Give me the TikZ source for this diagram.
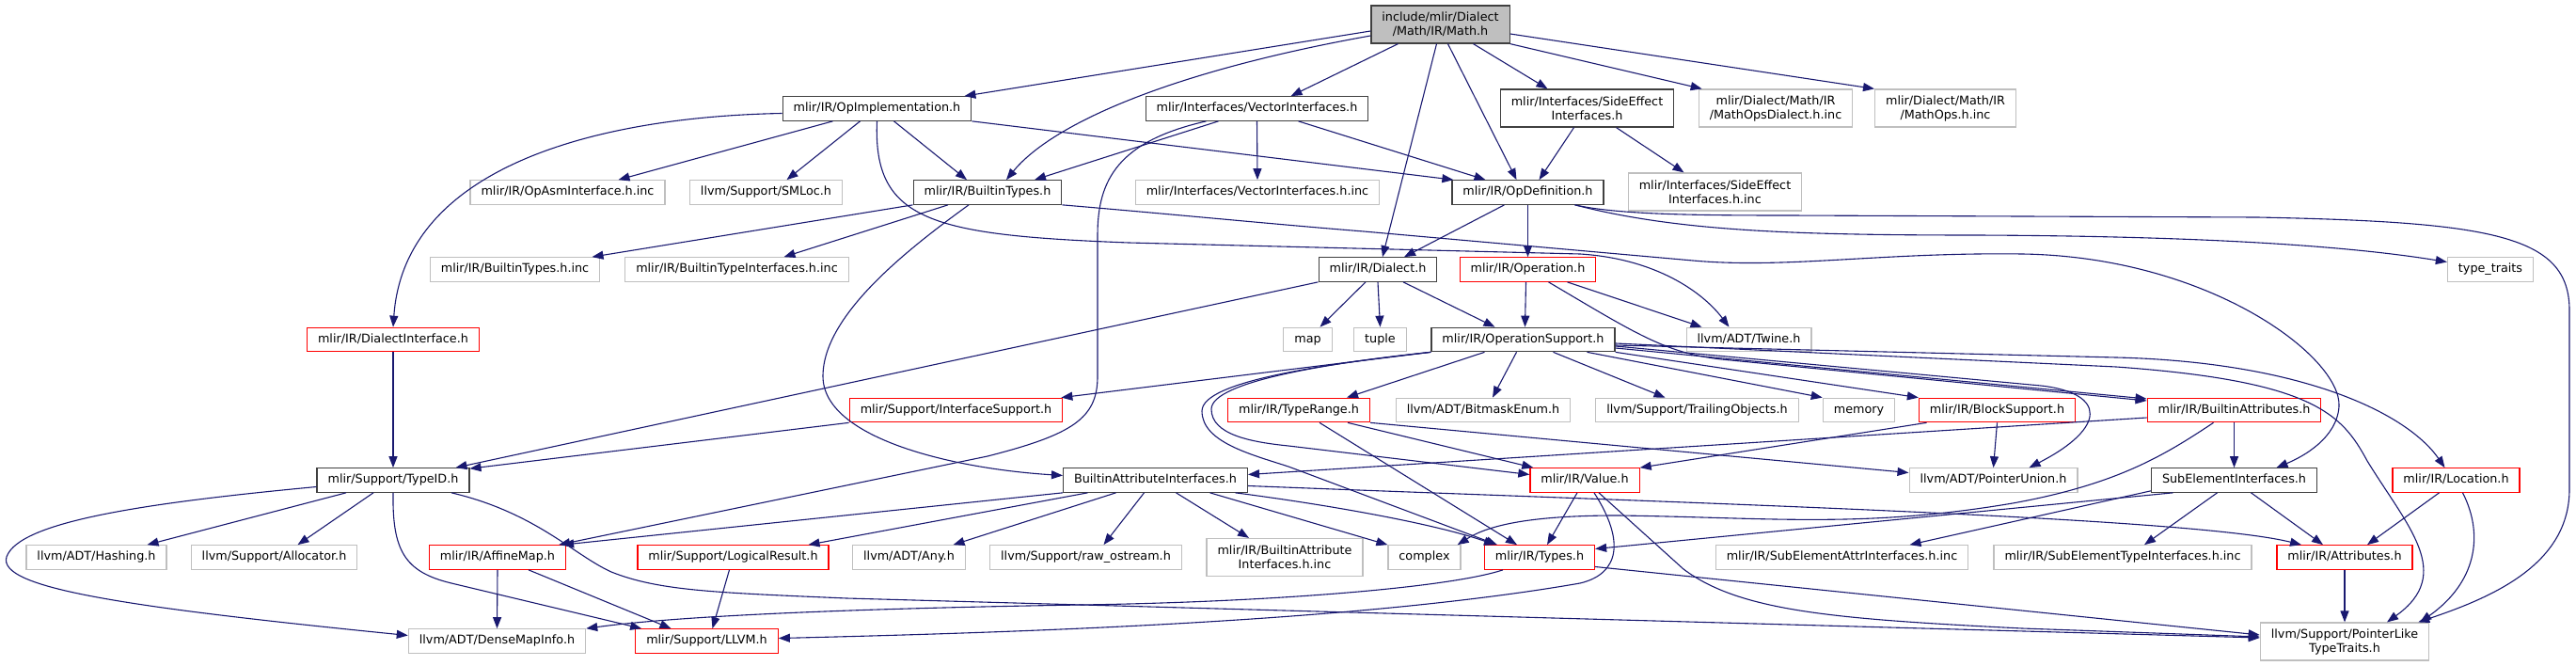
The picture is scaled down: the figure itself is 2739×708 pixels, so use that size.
\documentclass[tikz,border=0pt]{standalone}
\usepackage{fontspec}
\setmainfont{DejaVu Sans}
\usepackage{xcolor}
\usetikzlibrary{arrows.meta}

\definecolor{edgeblue}{HTML}{191970}
\definecolor{docline}{HTML}{404040}
\definecolor{truncline}{HTML}{FF0000}
\definecolor{extline}{HTML}{BFBFBF}
\definecolor{rootfill}{HTML}{BFBFBF}

\begin{document}
\begin{tikzpicture}[
        x=1pt, y=-1pt,
        file/.style={
            rectangle, draw, line width=1.2pt, font=\fontsize{12.76}{15}\selectfont,
            inner xsep=11.5pt, inner ysep=0pt, minimum height=25.5pt,
            text height=9.5pt, text depth=2.8pt
        },
        doc/.style  ={file, draw=docline},
        trunc/.style={file, draw=truncline},
        ext/.style  ={file, draw=extline},
        root/.style ={file, draw=docline, fill=rootfill},
        two/.style  ={align=center, minimum height=40pt, text height=, text depth=},
        dep/.style  ={->, draw=edgeblue, line width=1.1pt, >={Triangle[length=12pt,width=9pt]}}
    ]
        \useasboundingbox (0,0) rectangle (2739,708);

        % files
        \node[root, two] (math)     at (1531.5,26)  {include/mlir/Dialect\\/Math/IR/Math.h};

        \node[doc]       (opimpl)   at (932.5,115.5)  {mlir/IR/OpImplementation.h};
        \node[doc]       (vecif)    at (1336.5,115.5) {mlir/Interfaces/VectorInterfaces.h};
        \node[doc, two]  (sideeff)  at (1687.5,115)   {mlir/Interfaces/SideEffect\\Interfaces.h};
        \node[ext, two]  (mathdial) at (1888,115)     {mlir/Dialect/Math/IR\\/MathOpsDialect.h.inc};
        \node[ext, two]  (mathops)  at (2068.5,115)   {mlir/Dialect/Math/IR\\/MathOps.h.inc};

        \node[ext]       (opasm)    at (603.5,204.5)  {mlir/IR/OpAsmInterface.h.inc};
        \node[ext]       (smloc)    at (814.5,204.5)  {llvm/Support/SMLoc.h};
        \node[doc]       (btypes)   at (1050,204.5)   {mlir/IR/BuiltinTypes.h};
        \node[ext]       (vecinc)   at (1337,204.5)   {mlir/Interfaces/VectorInterfaces.h.inc};
        \node[doc]       (opdef)    at (1624.5,204.5) {mlir/IR/OpDefinition.h};
        \node[ext, two]  (sideinc)  at (1823.5,204)   {mlir/Interfaces/SideEffect\\Interfaces.h.inc};

        \node[ext]       (btinc)    at (547.5,286.5)  {mlir/IR/BuiltinTypes.h.inc};
        \node[ext]       (btiinc)   at (783.5,286.5)  {mlir/IR/BuiltinTypeInterfaces.h.inc};
        \node[doc]       (dialect)  at (1465,286.5)   {mlir/IR/Dialect.h};
        \node[trunc]     (operation) at (1624.5,286.5) {mlir/IR/Operation.h};
        \node[ext]       (typetraits) at (2648,286.5) {type\_traits};

        \node[trunc]     (dialif)   at (418,361)      {mlir/IR/DialectInterface.h};
        \node[ext]       (map)      at (1390.5,361)   {map};
        \node[ext]       (tuple)    at (1467.5,361)   {tuple};
        \node[doc]       (opsupp)   at (1619.5,361)   {mlir/IR/OperationSupport.h};
        \node[ext]       (twine)    at (1859.5,361)   {llvm/ADT/Twine.h};

        \node[trunc]     (ifsupp)   at (1016.5,436)   {mlir/Support/InterfaceSupport.h};
        \node[trunc]     (typerange) at (1381,436)    {mlir/IR/TypeRange.h};
        \node[ext]       (bitmask)  at (1577,436)     {llvm/ADT/BitmaskEnum.h};
        \node[ext]       (trailing) at (1804.5,436)   {llvm/Support/TrailingObjects.h};
        \node[ext]       (memory)   at (1976.5,436)   {memory};
        \node[trunc]     (blocksupp) at (2123.5,436)  {mlir/IR/BlockSupport.h};
        \node[trunc]     (battrs)   at (2375.5,436)   {mlir/IR/BuiltinAttributes.h};

        \node[doc]       (typeid)   at (418,510.5)    {mlir/Support/TypeID.h};
        \node[doc]       (bai)      at (1228.5,510.5) {BuiltinAttributeInterfaces.h};
        \node[trunc]     (value)    at (1685,510.5)   {mlir/IR/Value.h};
        \node[ext]       (punion)   at (2119.5,510.5) {llvm/ADT/PointerUnion.h};
        \node[doc]       (subel)    at (2375.5,510.5) {SubElementInterfaces.h};
        \node[trunc]     (location) at (2611.5,510.5) {mlir/IR/Location.h};

        \node[ext]       (hashing)  at (102.5,592.5)  {llvm/ADT/Hashing.h};
        \node[ext]       (allocator) at (291.5,592.5) {llvm/Support/Allocator.h};
        \node[trunc]     (affine)   at (529,592.5)    {mlir/IR/AffineMap.h};
        \node[trunc]     (logical)  at (779.5,592.5)  {mlir/Support/LogicalResult.h};
        \node[ext]       (any)      at (966.5,592.5)  {llvm/ADT/Any.h};
        \node[ext]       (rawos)    at (1154.5,592.5) {llvm/Support/raw\_ostream.h};
        \node[ext, two]  (baiinc)   at (1366,592.5)   {mlir/IR/BuiltinAttribute\\Interfaces.h.inc};
        \node[ext]       (complex)  at (1514.5,592.5) {complex};
        \node[trunc]     (types)    at (1637,592.5)   {mlir/IR/Types.h};
        \node[ext]       (seattr)   at (1958.5,592.5) {mlir/IR/SubElementAttrInterfaces.h.inc};
        \node[ext]       (setype)   at (2257,592.5)   {mlir/IR/SubElementTypeInterfaces.h.inc};
        \node[trunc]     (attrs)    at (2493,592.5)   {mlir/IR/Attributes.h};

        \node[ext]       (densemap) at (528.5,681.5)  {llvm/ADT/DenseMapInfo.h};
        \node[trunc]     (llvm)     at (751.5,681.5)  {mlir/Support/LLVM.h};
        \node[ext, two]  (pltt)     at (2493,682)     {llvm/Support/PointerLike\\TypeTraits.h};

        % Math.h
        \draw[dep] ([yshift=-7pt]math.west) -- ([xshift=-8pt]opimpl.north east);
        \draw[dep] ([yshift=-12pt]math.west) .. controls (1250,75) and (1120,130) .. ([xshift=20pt]btypes.north);
        \draw[dep] ([xshift=-45pt]math.south) -- ([xshift=36pt]vecif.north);
        \draw[dep] ([xshift=-4pt]math.south) -- ([xshift=5pt]dialect.north);
        \draw[dep] ([xshift=8pt]math.south) -- ([xshift=-12pt]opdef.north);
        \draw[dep] ([xshift=35pt]math.south) -- ([xshift=-42pt]sideeff.north);
        \draw[dep] (math.south east) -- ([xshift=4pt]mathdial.north west);
        \draw[dep] ([yshift=-10pt]math.east) -- (mathops.north west);

        % OpImplementation.h
        \draw[dep] ([yshift=-5pt]opimpl.west) .. controls (640,124) and (430,175) .. (dialif.north);
        \draw[dep] ([xshift=-47pt]opimpl.south) -- ([xshift=54pt]opasm.north);
        \draw[dep] ([xshift=-18pt]opimpl.south) -- ([xshift=22pt]smloc.north);
        \draw[dep] ([xshift=18pt]opimpl.south) -- ([xshift=-22pt]btypes.north);
        \draw[dep] (opimpl.south east) -- ([xshift=2pt]opdef.north west);
        \draw[dep] (opimpl.south) .. controls (928,235) and (990,250) .. (1200,258) -- (1680,270) .. controls (1760,275) and (1810,310) .. ([xshift=-21pt]twine.north);

        % VectorInterfaces.h
        \draw[dep] ([xshift=-41pt]vecif.south) -- ([xshift=50pt]btypes.north);
        \draw[dep] (vecif.south) -- (vecinc.north);
        \draw[dep] ([xshift=44pt]vecif.south) -- ([xshift=-45pt]opdef.north);
        \draw[dep] ([xshift=-54pt]vecif.south) .. controls (1190,150) and (1167,190) .. (1167,250) -- (1167,400) .. controls (1167,445) and (1140,462) .. (1050,485) -- ([xshift=-8pt]affine.north east);

        % SideEffectInterfaces.h
        \draw[dep] ([xshift=-14pt]sideeff.south) -- ([xshift=12pt]opdef.north);
        \draw[dep] ([xshift=31pt]sideeff.south) -- ([xshift=-33pt]sideinc.north);

        % OpDefinition.h
        \draw[dep] ([xshift=-25pt]opdef.south) -- ([xshift=28pt]dialect.north);
        \draw[dep] (opdef.south) -- (operation.north);
        \draw[dep] ([xshift=50pt]opdef.south) .. controls (1780,245) and (1900,250) .. (2100,250) .. controls (2350,251) and (2500,262) .. ([yshift=8pt]typetraits.west);
        \draw[dep] ([xshift=50pt]opdef.south) .. controls (1720,228) and (1800,229) .. (1900,229) -- (2400,231) .. controls (2650,236) and (2732,250) .. (2732,330) -- (2732,520) .. controls (2732,600) and (2650,635) .. ([xshift=-12pt]pltt.north east);

        % BuiltinTypes.h
        \draw[dep] (btypes.south west) -- ([xshift=82pt]btinc.north);
        \draw[dep] ([xshift=-42pt]btypes.south) -- ([xshift=50pt]btiinc.north);
        \draw[dep] ([xshift=-20pt]btypes.south) .. controls (965,265) and (875,335) .. (875,400) .. controls (875,465) and (1010,498) .. ([yshift=5pt]bai.west);
        \draw[dep] (btypes.south east) .. controls (1250,228) and (1350,238) .. (1450,246) -- (1800,277) .. controls (1900,286) and (2000,268) .. (2150,270) .. controls (2350,273) and (2490,380) .. (2487,432) .. controls (2485,465) and (2450,485) .. ([xshift=45pt]subel.north);

        % Dialect.h
        \draw[dep] ([xshift=-13pt]dialect.south) -- ([xshift=13pt]map.north);
        \draw[dep] (dialect.south) -- (tuple.north);
        \draw[dep] ([xshift=27pt]dialect.south) -- ([xshift=-30pt]opsupp.north);
        \draw[dep] (dialect.south west) -- ([xshift=-15pt]typeid.north east);

        % Operation.h
        \draw[dep] ([xshift=-2pt]operation.south) -- ([xshift=2pt]opsupp.north);
        \draw[dep] ([xshift=42pt]operation.south) -- ([xshift=-50pt]twine.north);
        \draw[dep] ([xshift=22pt]operation.south) .. controls (1740,355) and (1770,375) .. (1830,382) -- ([yshift=10pt]battrs.west);

        % OperationSupport.h
        \draw[dep] (opsupp.south west) -- ([xshift=-2pt]ifsupp.north east);
        \draw[dep] (opsupp.south west) .. controls (1420,385) and (1288,405) .. (1288,435) .. controls (1288,462) and (1330,470) .. (1370,474) -- ([yshift=6pt]value.west);
        \draw[dep] (opsupp.south west) .. controls (1410,387) and (1278,405) .. (1278,437) .. controls (1278,470) and (1330,483) .. (1370,496) -- ([xshift=-45pt]types.north);
        \draw[dep] ([xshift=-41pt]opsupp.south) -- ([xshift=51pt]typerange.north);
        \draw[dep] ([xshift=-7pt]opsupp.south) -- ([xshift=10pt]bitmask.north);
        \draw[dep] ([xshift=32pt]opsupp.south) -- ([xshift=-34pt]trailing.north);
        \draw[dep] ([xshift=68pt]opsupp.south) -- (memory.north west);
        \draw[dep] (opsupp.south east) -- (blocksupp.north west);
        \draw[dep] ([yshift=-9pt]opsupp.east) -- ([yshift=12pt]battrs.west);
        \draw[dep] ([yshift=-6pt]opsupp.east) -- (2250,380) .. controls (2450,385) and (2560,440) .. ([xshift=-12pt]location.north);
        \draw[dep] ([yshift=-7pt]opsupp.east) -- (2170,410) .. controls (2240,418) and (2240,455) .. ([xshift=38pt]punion.north);
        \draw[dep] ([yshift=-4pt]opsupp.east) -- (2250,390) .. controls (2460,405) and (2490,440) .. (2517,490) .. controls (2560,560) and (2610,610) .. ([xshift=45pt]pltt.north);

        % TypeRange.h
        \draw[dep] ([xshift=52pt]typerange.south) -- ([xshift=4pt]value.north west);
        \draw[dep] ([xshift=22pt]typerange.south) -- ([xshift=-24pt]types.north);
        \draw[dep] (typerange.south east) -- ([yshift=8pt]punion.west);

        % BlockSupport.h
        \draw[dep] (blocksupp.south) -- (punion.north);
        \draw[dep] ([xshift=-75pt]blocksupp.south) -- (value.north east);

        % BuiltinAttributes.h
        \draw[dep] (battrs.south) -- (subel.north);
        \draw[dep] ([yshift=-8pt]battrs.west) -- ([yshift=6pt]bai.east);
        \draw[dep] ([xshift=-22pt]battrs.south) .. controls (2300,485) and (2250,515) .. (2140,535) .. controls (1980,562) and (1880,550) .. (1720,548) .. controls (1620,548) and (1580,560) .. ([xshift=-4pt]complex.north east);

        % Value.h
        \draw[dep] ([xshift=-8pt]value.south) -- ([xshift=8pt]types.north);
        \draw[dep] ([xshift=10pt]value.south) .. controls (1728,575) and (1722,610) .. (1680,620) .. controls (1450,660) and (1100,672) .. ([yshift=3pt]llvm.east);
        \draw[dep] ([xshift=15pt]value.south) -- (1790,605) .. controls (1850,650) and (1950,658) .. (2150,668) -- ([yshift=5pt]pltt.west);

        % Types.h
        \draw[dep] ([xshift=-39pt]types.south) .. controls (1540,625) and (1350,640) .. (1150,643) .. controls (900,647) and (720,655) .. (densemap.north east);
        \draw[dep] ([yshift=-10pt]types.east) -- ([yshift=7pt]pltt.west);

        % TypeID.h
        \draw[dep] ([xshift=-50pt]typeid.south) -- ([xshift=54pt]hashing.north);
        \draw[dep] ([xshift=-21pt]typeid.south) -- ([xshift=25pt]allocator.north);
        \draw[dep] ([yshift=-7pt]typeid.west) .. controls (150,535) and (20,555) .. (7,592) .. controls (-3,625) and (130,645) .. ([yshift=6pt]densemap.west);
        \draw[dep] (typeid.south) .. controls (417,585) and (430,608) .. (480,620) -- ([xshift=7pt]llvm.north west);
        \draw[dep] ([xshift=62pt]typeid.south) .. controls (570,545) and (610,590) .. (650,608) .. controls (700,628) and (760,630) .. (900,636) -- ([yshift=4pt]pltt.west);

        % DialectInterface.h, InterfaceSupport.h
        \draw[dep] (dialif.south) -- (typeid.north);
        \draw[dep] (ifsupp.south west) -- ([yshift=-1pt]typeid.north east);

        % BuiltinAttributeInterfaces.h
        \draw[dep] (bai.south west) -- ([xshift=-4pt]affine.north east);
        \draw[dep] ([xshift=-72pt]bai.south) -- ([xshift=80pt]logical.north);
        \draw[dep] ([xshift=-42pt]bai.south) -- ([xshift=47pt]any.north);
        \draw[dep] ([xshift=-12pt]bai.south) -- ([xshift=19pt]rawos.north);
        \draw[dep] ([xshift=22pt]bai.south) -- ([xshift=-38pt]baiinc.north);
        \draw[dep] ([xshift=58pt]bai.south) -- (complex.north west);
        \draw[dep] ([xshift=85pt]bai.south) .. controls (1400,535) and (1520,555) .. ([xshift=-47pt]types.north);
        \draw[dep] ([yshift=-6pt]bai.east) .. controls (1800,535) and (2330,550) .. ([xshift=-46pt]attrs.north);

        % AffineMap.h, LogicalResult.h
        \draw[dep] (affine.south) -- (densemap.north);
        \draw[dep] ([xshift=33pt]affine.south) -- ([xshift=-38pt]llvm.north);
        \draw[dep] ([xshift=-4pt]logical.south) -- ([xshift=6pt]llvm.north);

        % SubElementInterfaces.h
        \draw[dep] ([yshift=2pt]subel.south west) -- ([xshift=72pt]seattr.north);
        \draw[dep] ([xshift=-18pt]subel.south) -- ([xshift=23pt]setype.north);
        \draw[dep] ([xshift=18pt]subel.south) -- ([xshift=-23pt]attrs.north);
        \draw[dep] ([xshift=-65pt]subel.south) -- ([yshift=9pt]types.east);

        % Location.h, Attributes.h
        \draw[dep] ([xshift=-18pt]location.south) -- ([xshift=24pt]attrs.north);
        \draw[dep] ([xshift=7pt]location.south) .. controls (2642,570) and (2632,620) .. ([xshift=-10pt]pltt.north east);
        \draw[dep] (attrs.south) -- (pltt.north);
    \end{tikzpicture}
\end{document}
